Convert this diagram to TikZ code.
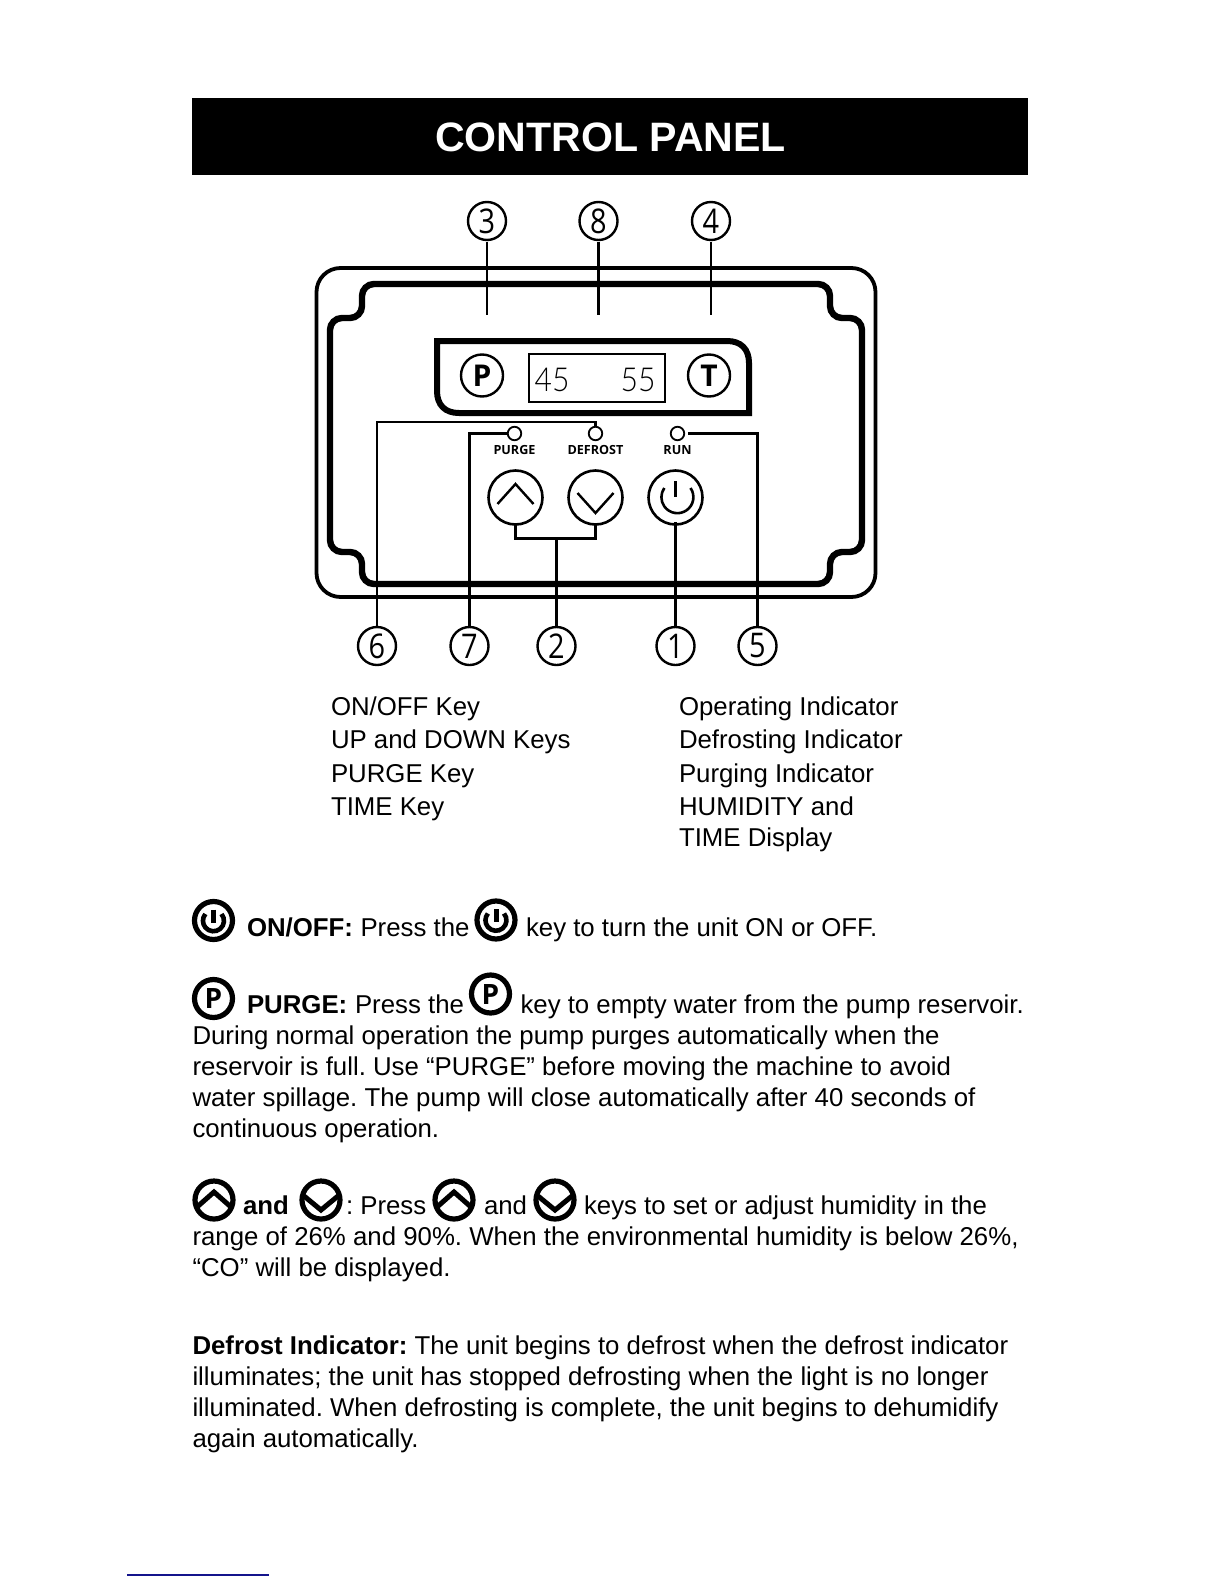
\documentclass[tikz,border=0pt]{standalone}
\usepackage{fontspec}
\setmainfont{Liberation Sans}
\newfontfamily\opensans{Open Sans}
\newfontfamily\monof[UprightFont=* Light]{Lato}
\newcommand{\bodysize}{\fontsize{25.8}{31}\selectfont\frenchspacing}
\newcommand{\numd}[1]{\raisebox{-1.2pt}{\scalebox{0.85}[1]{#1}}}
\newcommand{\letd}[1]{\raisebox{-1.6pt}{#1}}
\tikzset{
  x=1pt,y=-1pt,
  bodyt/.style={anchor=base west,inner sep=0,outer sep=0,font=\bodysize},
  boldt/.style={bodyt,font=\bodysize\bfseries},
  numc/.style={draw,circle,line width=2.4pt,minimum size=38pt,inner sep=0,outer sep=1.5pt,font=\opensans\fontsize{34}{34}\selectfont},
  conn/.style={line width=2.8pt},
  keyc/.style={draw,circle,line width=2.6pt,minimum size=54pt,inner sep=0,outer sep=0.5pt},
  letc/.style={draw,circle,line width=2.4pt,minimum size=42pt,inner sep=0,font=\opensans\bfseries\fontsize{30}{30}\selectfont},
  led/.style={draw,circle,line width=1.8pt,minimum size=13.5pt,inner sep=0,outer sep=0.5pt},
  ledt/.style={inner sep=0,font=\opensans\bfseries\fontsize{12.6}{14}\selectfont},
  iconc/.style={draw,circle,line width=5.2pt,minimum size=38pt,inner sep=0,font=\opensans\bfseries\fontsize{28}{28}\selectfont},
  iconpower/.pic={
    \node[iconc] (-c) at (0,0) {};
    \draw[line width=5pt] (0,-11) -- (0,2);
    \draw[line width=4.6pt] (8,-6.5) arc[start angle=-40,end angle=220,radius=10.5];
  },
  iconup/.pic={
    \node[iconc] (-c) at (0,0) {};
    \draw[line width=5pt] (-17,7) -- (0,-8) -- (17,7);
  },
  icondown/.pic={
    \node[iconc] (-c) at (0,0) {};
    \draw[line width=5pt] (-17,-4) -- (0,10) -- (17,-4);
  }
}
\begin{document}
\begin{tikzpicture}
\useasboundingbox (0,0) rectangle (1224,1584);
\fill[white] (0,0) rectangle (1224,1584);

% Header
\fill[black] (192,98) rectangle (1028,175);
\node[inner sep=0,text=white,font=\fontsize{41.1}{41}\selectfont\bfseries] (title) at (610.5,137) {CONTROL PANEL};

% Panel body
\draw[line width=3.8pt,rounded corners=24] (316.5,268) rectangle (875.5,597);
\draw[line width=6.4pt,rounded corners=12]
  (330,318) -- (362,318) -- (362,284) -- (830,284) -- (830,318) -- (862,318)
  -- (862,552) -- (830,552) -- (830,584) -- (362,584) -- (362,552) -- (330,552) -- cycle;

% Display strip
\draw[line width=6pt,miter limit=10]
  (437,341) -- (727,341) .. controls (741,341) and (749,349) .. (749,363)
  -- (749,413) -- (459,413) .. controls (445,413) and (437,405) .. (437,391) -- cycle;
\node[letc] (keyPurge) at (482,375.5) {\letd{P}};
\node[letc] (keyTime) at (709,375.5) {\letd{T}};
\draw[line width=2.8pt] (529,354) rectangle (665,402);
\node[inner sep=0,anchor=base,font=\monof\fontsize{30}{30}\selectfont,yscale=1.1] (read1) at (552,391) {45};
\node[inner sep=0,anchor=base,font=\monof\fontsize{30}{30}\selectfont,yscale=1.1] (read2) at (638,391) {55};

% LEDs
\node[led] (ledP) at (514.5,433.5) {};
\node[led] (ledD) at (595.5,433.5) {};
\node[led] (ledR) at (677.5,433.5) {};
\node[ledt] (tP) at (514.5,450) {PURGE};
\node[ledt] (tD) at (595.5,450) {DEFROST};
\node[ledt] (tR) at (677.5,450) {RUN};

% Keys
\node[keyc] (keyUp) at (515.5,497.5) {};
\node[keyc] (keyDown) at (595.5,497.5) {};
\node[keyc] (keyPower) at (675.5,497.5) {};
\draw[line width=2.4pt] (497.5,504) -- (515.5,484) -- (533.5,504);
\draw[line width=2.4pt] (577.5,493) -- (595.5,513) -- (613.5,493);
\draw[line width=2.4pt] (675.5,481) -- (675.5,497);
\draw[line width=2.6pt] (690.5,488) arc[start angle=-35,end angle=215,radius=16];

% Numbered callouts
\node[numc] (c3) at (487,221) {\numd{3}};
\node[numc] (c8) at (598.5,221) {\numd{8}};
\node[numc] (c4) at (711,221) {\numd{4}};
\node[numc] (c6) at (377,646) {\numd{6}};
\node[numc] (c7) at (469.5,646) {\numd{7}};
\node[numc] (c2) at (556.5,646) {\numd{2}};
\node[numc] (c1) at (675.5,646) {\numd{1}};
\node[numc] (c5) at (757.5,646) {\numd{5}};
\coordinate (e3) at (487,315);
\coordinate (e8) at (598.5,315);
\coordinate (e4) at (711,315);
\coordinate (b6) at (595.5,422);
\coordinate (j2) at (556.5,538.5);

\draw[conn] (c3) -- (e3);
\draw[conn] (c8) -- (e8);
\draw[conn] (c4) -- (e4);
\draw[conn] (c6.north) |- (b6) -- (ledD.north);
\draw[conn] (c7.north) |- (ledP.west);
\draw[conn] (c5.north) |- ([xshift=3pt]ledR.east);
\draw[conn] (keyUp.south) |- (j2) -| (keyDown.south);
\draw[conn] (c2.north) -- (j2);
\draw[conn] (c1.north) -- ([yshift=3pt]keyPower.south);

% Legend
\node[bodyt] (l1) at (331,715) {ON/OFF Key};
\node[bodyt] (l2) at (331,748) {UP and DOWN Keys};
\node[bodyt] (l3) at (331,782) {PURGE Key};
\node[bodyt] (l4) at (331,815) {TIME Key};
\node[bodyt] (r1) at (679,715) {Operating Indicator};
\node[bodyt] (r2) at (679,748) {Defrosting Indicator};
\node[bodyt] (r3) at (679,782) {Purging Indicator};
\node[bodyt] (r4) at (679,815) {HUMIDITY and};
\node[bodyt] (r5) at (679,846.5) {TIME Display};

% ON/OFF
\pic (i1) at (213.5,920.5) {iconpower};
\node[boldt] (a1) at (247,936) {ON/OFF:};
\node[bodyt] (a2) at (360.5,936) {Press the};
\pic (i2) at (496,920) {iconpower};
\node[bodyt] (a3) at (526,936) {key to turn the unit ON or OFF.};

% PURGE
\node[iconc] (i3) at (213.5,998.5) {\letd{P}};
\node[boldt] (b1) at (247,1013) {PURGE:};
\node[bodyt] (b2) at (355,1013) {Press the};
\node[iconc] (i4) at (490.5,994) {\letd{P}};
\node[bodyt] (b3) at (520.5,1013) {key to empty water from the pump reservoir.};
\node[bodyt] (b4) at (192.5,1044) {During normal operation the pump purges automatically when the};
\node[bodyt] (b5) at (192.5,1075) {reservoir is full. Use “PURGE” before moving the machine to avoid};
\node[bodyt] (b6t) at (192.5,1106) {water spillage. The pump will close automatically after 40 seconds of};
\node[bodyt] (b7) at (192.5,1137) {continuous operation.};

% UP / DOWN
\pic (i5) at (214,1200) {iconup};
\node[boldt] (d1) at (243,1214) {and};
\pic (i6) at (321,1200) {icondown};
\node[bodyt] (d2) at (346,1214) {: Press};
\pic (i7) at (454,1200) {iconup};
\node[bodyt] (d3) at (484,1214) {and};
\pic (i8) at (555,1200) {icondown};
\node[bodyt] (d4) at (584,1214) {keys to set or adjust humidity in the};
\node[bodyt] (d5) at (192.5,1245) {range of 26\% and 90\%. When the environmental humidity is below 26\%,};
\node[bodyt] (d6) at (192.5,1276) {“CO” will be displayed.};

% Defrost
\node[boldt] (f1) at (192.5,1354) {Defrost Indicator:};
\node[bodyt] (f2) at (414.5,1354) {The unit begins to defrost when the defrost indicator};
\node[bodyt] (f3) at (192.5,1385) {illuminates; the unit has stopped defrosting when the light is no longer};
\node[bodyt] (f4) at (192.5,1416) {illuminated. When defrosting is complete, the unit begins to dehumidify};
\node[bodyt] (f5) at (192.5,1447) {again automatically.};

% Footer rule
\draw[line width=1.6pt,color={rgb,255:red,20;green,20;blue,140}] (127,1575) -- (269,1575);
\end{tikzpicture}
\end{document}
